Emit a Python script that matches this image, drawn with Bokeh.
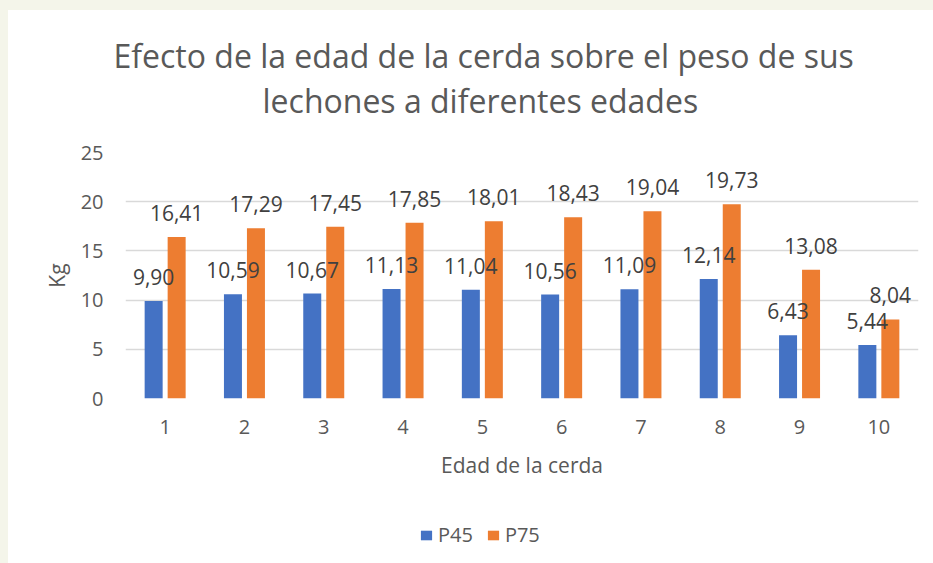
from bokeh.plotting import figure
from bokeh.layouts import column
from bokeh.models import ColumnDataSource, FixedTicker, Legend, LegendItem, Title, LabelSet, Range1d
from bokeh.core.properties import value
from bokeh.transform import dodge
from bokeh.embed import file_html
from bokeh.resources import INLINE

ages = [1, 2, 3, 4, 5, 6, 7, 8, 9, 10]
p45 = [9.90, 10.59, 10.67, 11.13, 11.04, 10.56, 11.09, 12.14, 6.43, 5.44]
p75 = [16.41, 17.29, 17.45, 17.85, 18.01, 18.43, 19.04, 19.73, 13.08, 8.04]
y_ticks = [0, 5, 10, 15, 20, 25]
series = ["P45", "P75"]

FONT = "Open Sans"
TXT = "#595959"
BLUE = "#4472c4"
ORANGE = "#ed7d31"

def fmt(v):
    return f"{v:.2f}".replace(".", ",")

src = ColumnDataSource(dict(
    age=ages, p45=p45, p75=p75,
    l45=[fmt(v) for v in p45], l75=[fmt(v) for v in p75],
))

p = figure(width=925, height=500, output_backend="svg", toolbar_location=None,
           x_range=Range1d(0.5, 10.5), y_range=Range1d(0, 25),
           min_border_left=117, min_border_right=15, min_border_top=142, min_border_bottom=112)
p.background_fill_color = "white"
p.border_fill_color = "white"
p.outline_line_color = None

r1 = p.vbar(x=dodge("age", -0.145), top="p45", width=0.227, source=src, fill_color=BLUE, line_color=None)
r2 = p.vbar(x=dodge("age", 0.145), top="p75", width=0.227, source=src, fill_color=ORANGE, line_color=None)

for col, lab, off in (("p45", "l45", -0.145), ("p75", "l75", 0.145)):
    ls = LabelSet(x=dodge("age", off), y=col, text=lab, source=src,
                  text_align="center", text_baseline="bottom", y_offset=16,
                  text_font=value(FONT), text_font_size="21px", text_color="#404040")
    p.add_layout(ls)

p.xaxis.ticker = FixedTicker(ticks=ages)
p.yaxis.ticker = FixedTicker(ticks=y_ticks)
for ax in (p.xaxis[0], p.yaxis[0]):
    ax.axis_line_color = None
    ax.major_tick_line_color = None
    ax.minor_tick_line_color = None
    ax.major_label_text_font = FONT
    ax.major_label_text_font_size = "20px"
    ax.major_label_text_color = TXT
    ax.axis_label_text_font = FONT
    ax.axis_label_text_font_size = "21px"
    ax.axis_label_text_font_style = "normal"
    ax.axis_label_text_color = TXT
p.xaxis.axis_label = "Edad de la cerda"
p.yaxis.axis_label = "Kg"
p.xaxis.major_label_standoff = 15
p.xaxis.axis_label_standoff = 14
p.yaxis.major_label_standoff = 16
p.yaxis.axis_label_standoff = 7

p.xgrid.grid_line_color = None
p.ygrid.grid_line_color = "#d9d9d9"
p.ygrid.grid_line_width = 1.5

spacer = Title(text=" ", text_font=FONT, text_font_size="1px", text_color="white", standoff=28)
t2 = Title(text="lechones a diferentes edades", align="left", offset=137, text_font=FONT,
           text_font_size="32px", text_font_style="normal", text_color=TXT, standoff=0)
t1 = Title(text="Efecto de la edad de la cerda sobre el peso de sus", align="left", offset=-12,
           text_font=FONT, text_font_size="32px", text_font_style="normal", text_color=TXT, standoff=0)
p.add_layout(spacer, "above")
p.add_layout(t2, "above")
p.add_layout(t1, "above")

# legend strip below the chart (its bars sit outside its visible range)
lg = figure(width=925, height=53, output_backend="svg", toolbar_location=None,
            x_range=Range1d(0.5, 10.5), y_range=Range1d(100, 101),
            x_axis_location=None, y_axis_location=None,
            min_border_left=0, min_border_right=0, min_border_top=0, min_border_bottom=0)
lg.background_fill_color = "white"
lg.border_fill_color = "white"
lg.outline_line_color = None
lg.xgrid.grid_line_color = None
lg.ygrid.grid_line_color = None
d1 = lg.vbar(x="age", top="p45", width=0.227, source=src, fill_color=BLUE, line_color=None)
d2 = lg.vbar(x="age", top="p75", width=0.227, source=src, fill_color=ORANGE, line_color=None)
legend = Legend(items=[LegendItem(label=series[0], renderers=[d1]), LegendItem(label=series[1], renderers=[d2])],
                orientation="horizontal", location=(294, 15), margin=0, padding=0,
                label_text_font=FONT, label_text_font_size="20px", label_text_color=TXT,
                glyph_width=14, glyph_height=12, spacing=13, label_standoff=5,
                border_line_color=None, background_fill_alpha=0)
lg.add_layout(legend, "center")

layout = column(p, lg, spacing=0, margin=(10, 0, 0, 8), styles={"background-color": "white"})
html = file_html(layout, INLINE)
html = html.replace("</head>", "<style>body{background:#f4f5ea;}</style></head>")
open("out.html", "w").write(html)
